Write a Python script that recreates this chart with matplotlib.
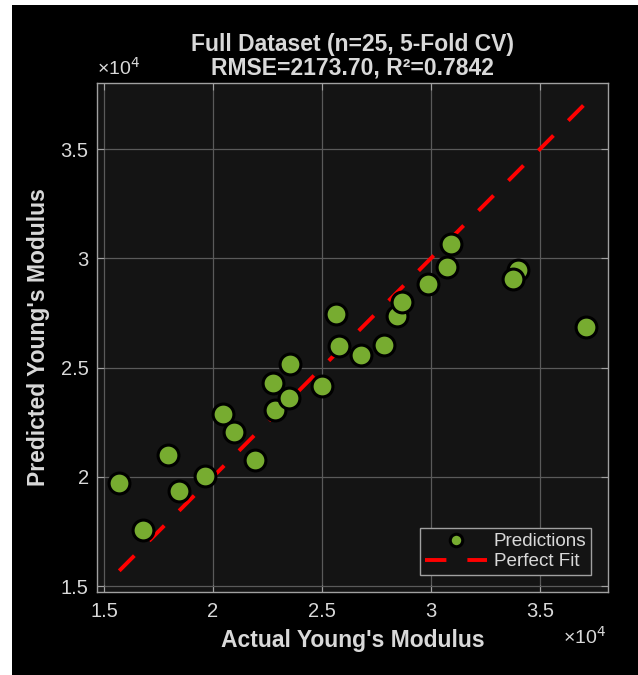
import matplotlib
matplotlib.use("Agg")
import matplotlib.pyplot as plt
from matplotlib.patches import Rectangle
from matplotlib.ticker import FuncFormatter, FixedLocator
import numpy as np

plt.rcParams['font.family'] = ['Liberation Sans', 'DejaVu Sans']

actual = [15700, 16780, 17940, 18450, 19630, 20470, 20980, 21910, 22770, 22840,
          23500, 23550, 24990, 25640, 25790, 26780, 27840, 28430, 28670, 29860,
          30720, 30940, 33980, 33780, 37110]
predicted = [19720, 17560, 21020, 19340, 20040, 22860, 22060, 20760, 24300, 23050,
             23610, 25170, 24150, 27450, 25970, 25580, 26020, 27350, 28000, 28840,
             29600, 30670, 29480, 29040, 26860]
x_ticks = [15000, 20000, 25000, 30000, 35000]
y_ticks = [15000, 20000, 25000, 30000, 35000]
title_lines = ["Full Dataset (n=25, 5-Fold CV)", "RMSE=2173.70, R²=0.7842"]

txt = '#d9d9d9'
fig = plt.figure(figsize=(6.38, 6.75), dpi=100, facecolor='white')
fig.patches.append(Rectangle((12/638, 0), 1, 1 - 5/675, transform=fig.transFigure,
                             facecolor='black', edgecolor='none', zorder=-10))

ax = fig.add_axes([97/638, 1 - 592/675, (608 - 97)/638, (592 - 83)/675])
ax.set_facecolor('#141414')

lo = min(min(actual), min(predicted))
hi = max(max(actual), max(predicted))
ax.plot([lo, hi], [lo, hi], color='#ff0000', lw=2.8, linestyle=(0, (5.5, 5.4)),
        dash_capstyle='butt', label='Perfect Fit', zorder=2)
ax.plot(actual, predicted, linestyle='none', marker='o', ms=15, mfc='#77ac30',
        mec='black', mew=2.2, label='Predictions', zorder=3)

ax.set_xlim(14680, 38120)
ax.set_ylim(14730, 38020)
ax.xaxis.set_major_locator(FixedLocator(x_ticks))
ax.yaxis.set_major_locator(FixedLocator(y_ticks))
fmt = FuncFormatter(lambda v, p: f"{v/1e4:g}")
ax.xaxis.set_major_formatter(fmt)
ax.yaxis.set_major_formatter(fmt)
ax.grid(True, color='#5a5a5a', lw=0.9, zorder=0)
ax.set_axisbelow(True)
ax.tick_params(axis='both', direction='in', length=5, width=0.8, color='#a0a0a0',
               labelcolor=txt, labelsize=14.5, top=True, right=True)
ax.tick_params(axis='x', pad=7)
ax.tick_params(axis='y', pad=6)
for s in ax.spines.values():
    s.set_color('#a0a0a0')
    s.set_linewidth(1.0)

ax.set_xlabel("Actual Young's Modulus", color=txt, fontsize=16.5, fontweight='bold', labelpad=6)
ax.set_ylabel("Predicted Young's Modulus", color=txt, fontsize=16.5, fontweight='bold', labelpad=8)
ax.set_title("\n".join(title_lines), color=txt, fontsize=16.5, fontweight='bold',
             linespacing=1.05, pad=6)

fig.text(97/638, 1 - 68/675, "×10$^4$", color=txt, fontsize=14, ha='left', va='center')
fig.text(606/638, 1 - 637/675, "×10$^4$", color=txt, fontsize=14, ha='right', va='center')

h, l = ax.get_legend_handles_labels()
leg = ax.legend([h[1], h[0]], [l[1], l[0]], loc='lower right', fontsize=13.6,
                facecolor='#141414', edgecolor='#a0a0a0', labelcolor=txt,
                framealpha=1, fancybox=False, markerscale=0.6, handlelength=3.3,
                borderpad=0.25, labelspacing=0.15, handletextpad=0.35,
                bbox_to_anchor=(1.0, 0.0), borderaxespad=0.9)
leg.get_frame().set_linewidth(1.0)

fig.savefig("out.png", dpi=100, facecolor=fig.get_facecolor())
